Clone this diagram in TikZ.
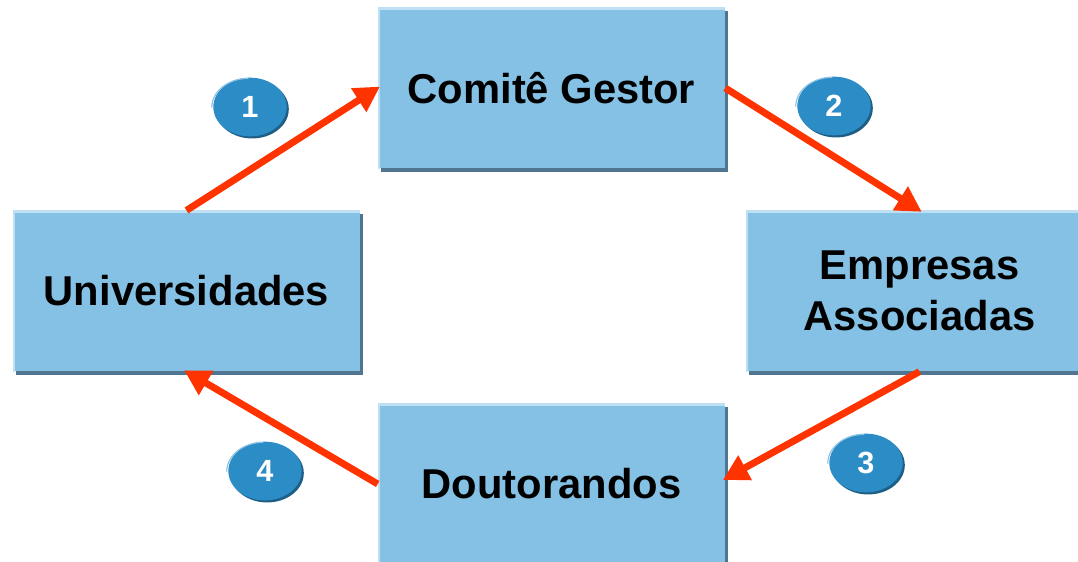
\documentclass[tikz,border=0pt]{standalone}
\usepackage{fontspec}
\setmainfont{Liberation Sans}
\usetikzlibrary{shapes.geometric,arrows.meta,shadows}
\definecolor{boxfill}{HTML}{84C1E4}
\definecolor{boxedge}{HTML}{BFE0F2}
\definecolor{boxshadow}{HTML}{4F7590}
\definecolor{badgefill}{HTML}{2B8CC6}
\definecolor{badgeshadow}{HTML}{1E5F86}
\definecolor{badgelight}{HTML}{8CC3E4}
\definecolor{arrowred}{HTML}{FF3300}
\tikzset{
  box/.style={rectangle, fill=boxfill, minimum width=260.25pt, minimum height=120.5pt,
    inner sep=0pt, align=center, font=\bfseries\fontsize{31.3pt}{38.5pt}\selectfont,
    drop shadow={shadow xshift=2.5pt, shadow yshift=-2.5pt, fill=boxshadow, opacity=1}},
  badge/.style={ellipse, fill=badgefill, minimum width=55pt, minimum height=44pt, inner sep=0pt,
    text=white, font=\bfseries\fontsize{23pt}{27pt}\selectfont,
    drop shadow={shadow xshift=1.6pt, shadow yshift=-1.6pt, fill=badgeshadow, opacity=1}},
  flow/.style={draw=arrowred, line width=5.2pt, -{Triangle[length=19pt,width=20pt]}, shorten >=-2pt}
}
\begin{document}
\begin{tikzpicture}[x=0.75pt,y=-0.75pt]
\useasboundingbox (0,0) rectangle (1078,561);
\begin{scope}
\clip (0,0) rectangle (1078,561);
\node[box] (C) at (551.5,88) {Comitê Gestor};
\node[box] (U) at (186.5,291) {Universidades};
\node[box] (E) at (919.5,291) {Empresas\\Associadas};
\node[box] (D) at (551.5,484) {Doutorandos};
\foreach \n in {C,U,E,D}{
  \draw[boxedge, line width=1.6pt] ([xshift=0.8pt]\n.south west) -- ([xshift=0.8pt,yshift=-0.8pt]\n.north west) -- ([yshift=-0.8pt]\n.north east);
}
\node[badge] (b1) at (250,107) {1};
\node[badge] (b2) at (834,106) {2};
\node[badge] (b3) at (866,463) {3};
\node[badge] (b4) at (265,471) {4};
\foreach \n in {b1,b2,b3,b4}{
  \draw[badgelight, line width=0.9pt] ([shift={(-1pt,-0.5pt)}]\n.west) arc[start angle=180, end angle=90, x radius=27.5pt, y radius=22pt];
}
\draw[flow] (U.north) -- (C.west);
\draw[flow] (C.east) -- (E.north);
\draw[flow] (E.south) -- ([yshift=4pt]D.east);
\draw[flow] (D.west) -- (U.south);
\end{scope}
\end{tikzpicture}
\end{document}
